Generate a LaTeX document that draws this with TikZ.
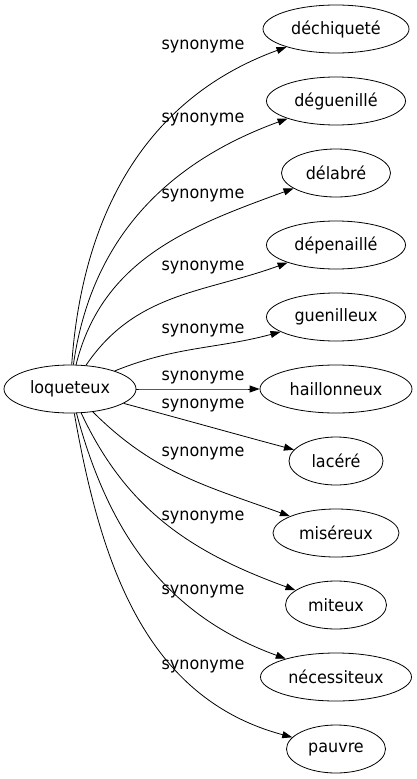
\documentclass[tikz,border=0pt]{standalone}
\usepackage{fontspec}
\setmainfont{DejaVu Sans}[FakeStretch=0.94]
\usetikzlibrary{shapes.geometric,arrows.meta}

\tikzset{
  mot/.style={draw,ellipse,minimum height=48pt,inner sep=0pt,line width=0.8pt,font=\fontsize{17}{19}\selectfont},
  lien/.style={-{Triangle[length=10pt,width=7pt]},line width=0.8pt},
  etiq/.style={font=\fontsize{17}{19}\selectfont,inner sep=1pt},
}

\begin{document}
\begin{tikzpicture}[x=1pt,y=1pt]
    \useasboundingbox (0,0) rectangle (417,-779);
    %% source
    \node[mot,minimum width=132pt] (loq) at (70,-389) {loqueteux};
    %% synonymes
    \foreach \nom/\txt/\y/\w/\sor/\ent/\ly in {
        dech/déchiqueté/-29/146/86/200/-47,
        degu/déguenillé/-101/139/82/200/-120,
        dela/délabré/-173/109/76/200/-196,
        depe/dépenaillé/-245/139/56/200/-268,
        guen/guenilleux/-317/139/22/195/-331,
        hail/haillonneux/-389/152/0/180/-378,
        lace/lacéré/-461/94/-15/165/-406,
        mise/miséreux/-533/126/-45/160/-454,
        mite/miteux/-605/101/-65/160/-518,
        nece/nécessiteux/-677/151/-75/160/-592,
        pauv/pauvre/-749/99/-80/165/-666} {
        \node[mot,minimum width=\w pt] (\nom) at (336,\y) {\txt};
        \node[etiq] (l\nom) at (203,\ly) {synonyme};
        \draw[lien] (loq) to[out=\sor,in=\ent] (\nom);
    }
\end{tikzpicture}
\end{document}
